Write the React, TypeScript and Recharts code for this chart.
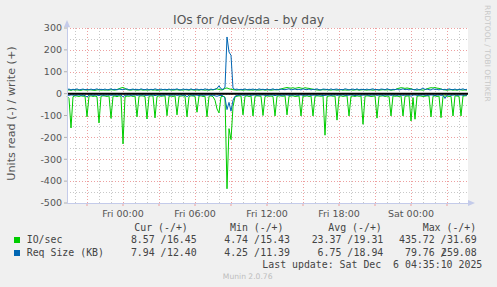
import { LineChart, Line, XAxis, YAxis, ReferenceLine } from 'recharts'

// one sample every 10 minutes, starting Thu 19:20
const STEP_MIN = 10

// IO/sec, read (drawn negative)
const readIO = [
  -12, -22, -157, -14, -10, -11, -13, -10, -12, -11,
  -106, -12, -10, -13, -11, -14, -134, -12, -10, -11,
  -13, -10, -113, -12, -11, -14, -10, -12, -230, -15,
  -11, -12, -10, -13, -11, -106, -12, -10, -11, -13,
  -116, -12, -10, -11, -111, -13, -10, -12, -11, -10,
  -101, -12, -11, -13, -10, -97, -12, -11, -10, -12,
  -106, -13, -10, -11, -12, -85, -11, -10, -13, -12,
  -106, -12, -10, -14, -30, -70, -88, -14, -12, -16,
  -435, -160, -210, -60, -14, -12, -10, -11, -97, -12,
  -10, -13, -11, -102, -12, -10, -11, -12, -100, -13,
  -10, -12, -11, -13, -102, -12, -10, -11, -12, -10,
  -97, -12, -11, -10, -13, -12, -10, -102, -11, -12,
  -10, -13, -11, -102, -12, -10, -11, -12, -10, -190,
  -13, -11, -10, -12, -11, -121, -12, -10, -13, -11,
  -10, -102, -12, -11, -13, -10, -12, -11, -140, -12,
  -10, -11, -13, -12, -10, -112, -12, -11, -10, -13,
  -11, -12, -102, -10, -12, -11, -13, -10, -102, -12,
  -11, -10, -125, -18, -117, -12, -10, -11, -13, -12,
  -10, -11, -106, -12, -10, -13, -11, -110, -12, -10,
  -11, -13, -12, -102, -10, -11, -12, -102, -11, -10,
  -9,
]

// IO/sec, write
const writeIO = [
  16, 17, 15, 18, 16, 17, 16, 15, 18, 17,
  16, 18, 17, 16, 15, 17, 18, 16, 17, 16,
  17, 16, 18, 17, 16, 19, 22, 26, 28, 24,
  18, 17, 16, 18, 17, 16, 17, 18, 16, 17,
  16, 17, 18, 16, 17, 15, 17, 16, 18, 17,
  16, 18, 17, 16, 17, 18, 16, 17, 16, 18,
  17, 16, 18, 17, 16, 17, 16, 18, 17, 16,
  17, 16, 18, 17, 20, 22, 19, 17, 18, 24,
  26, 22, 20, 18, 17, 16, 18, 17, 16, 17,
  18, 16, 17, 16, 18, 17, 16, 17, 18, 16,
  17, 18, 16, 17, 18, 17, 19, 21, 24, 26,
  28, 26, 25, 27, 24, 26, 28, 25, 24, 27,
  25, 24, 22, 20, 18, 17, 16, 17, 18, 17,
  18, 17, 16, 18, 17, 16, 17, 18, 16, 17,
  16, 17, 18, 16, 17, 18, 16, 17, 18, 17,
  16, 18, 17, 16, 17, 18, 16, 17, 18, 17,
  17, 18, 16, 17, 18, 22, 25, 27, 26, 24,
  26, 24, 22, 19, 17, 16, 18, 17, 16, 18,
  22, 25, 27, 26, 28, 25, 24, 21, 18, 17,
  16, 17, 18, 16, 17, 16, 18, 17, 16, 17,
  16,
]

// Req Size (KB), read (drawn negative)
const readReq = [
  -7, -8, -6, -7, -8, -7, -6, -8, -7, -9,
  -15, -7, -6, -8, -7, -7, -9, -6, -8, -7,
  -7, -6, -8, -7, -7, -8, -6, -7, -14, -8,
  -7, -6, -8, -7, -6, -8, -7, -7, -6, -8,
  -8, -7, -6, -7, -9, -7, -6, -8, -7, -7,
  -6, -8, -7, -7, -6, -8, -7, -6, -8, -7,
  -14, -7, -6, -8, -7, -7, -9, -6, -8, -7,
  -7, -6, -8, -7, -10, -12, -9, -8, -10, -20,
  -73, -40, -80, -30, -12, -8, -7, -6, -8, -7,
  -7, -6, -8, -7, -6, -8, -7, -7, -6, -8,
  -8, -7, -6, -7, -9, -7, -6, -8, -7, -7,
  -6, -8, -7, -7, -6, -8, -7, -6, -8, -7,
  -7, -6, -8, -7, -7, -8, -6, -7, -9, -8,
  -7, -6, -8, -7, -6, -8, -7, -7, -6, -8,
  -8, -7, -6, -7, -9, -7, -6, -8, -7, -7,
  -6, -8, -7, -7, -6, -8, -7, -6, -8, -7,
  -7, -6, -8, -7, -7, -8, -6, -7, -8, -7,
  -7, -6, -12, -7, -6, -8, -7, -7, -6, -8,
  -8, -7, -6, -7, -9, -7, -6, -8, -7, -22,
  -7, -6, -8, -7, -6, -8, -7, -6, -8, -7,
  -7,
]

// Req Size (KB), write
const writeReq = [
  18, 21, 17, 20, 18, 22, 17, 19, 21, 18,
  20, 17, 21, 18, 19, 22, 17, 20, 18, 21,
  17, 19, 22, 18, 20, 17, 21, 19, 18, 20,
  22, 17, 19, 21, 18, 20, 17, 22, 19, 18,
  21, 17, 20, 18, 22, 19, 17, 21, 18, 20,
  18, 21, 17, 20, 19, 22, 18, 17, 21, 19,
  20, 17, 22, 18, 19, 21, 17, 20, 18, 22,
  19, 17, 21, 18, 20, 24, 36, 22, 19, 30,
  259, 190, 175, 24, 19, 21, 17, 20, 18, 22,
  17, 20, 19, 21, 18, 17, 22, 19, 20, 18,
  21, 17, 19, 22, 18, 20, 17, 21, 19, 18,
  20, 22, 17, 19, 21, 18, 20, 17, 22, 19,
  18, 21, 17, 20, 19, 22, 18, 17, 21, 20,
  19, 17, 22, 18, 20, 21, 17, 19, 18, 22,
  20, 17, 19, 21, 18, 22, 17, 20, 19, 18,
  21, 17, 20, 22, 18, 19, 17, 21, 20, 18,
  22, 19, 17, 20, 18, 21, 17, 19, 22, 18,
  20, 17, 21, 19, 18, 22, 17, 20, 26, 19,
  21, 18, 17, 22, 19, 20, 17, 21, 18, 20,
  17, 22, 19, 18, 21, 17, 20, 19, 22, 18,
  20,
]

const xTickMinutes = [280, 640, 1000, 1360, 1720]
const xTickLabels = ['Fri 00:00', 'Fri 06:00', 'Fri 12:00', 'Fri 18:00', 'Sat 00:00']
const yTicks = [-500, -400, -300, -200, -100, 0, 100, 200, 300]

const statHeaders = ['Cur (-/+)', 'Min (-/+)', 'Avg (-/+)', 'Max (-/+)']
const ioRead = ['8.57', '4.74', '23.37', '435.72']
const ioWrite = ['16.45', '15.43', '19.31', '31.69']
const reqRead = ['7.94', '4.25', '6.75', '79.76']
const reqWrite = ['12.40', '11.39', '18.94', '259.08']

const GREEN = '#00cc00'
const BLUE = '#0066b3'
const MONO = '"DejaVu Sans Mono", monospace'
const SANS = '"DejaVu Sans", sans-serif'

const data = readIO.map((v, i) => ({
  t: i * STEP_MIN,
  readIO: v,
  writeIO: writeIO[i],
  readReq: readReq[i],
  writeReq: writeReq[i],
}))

// hourly minor grid, red grid every 3 hours
const minorX: number[] = []
const majorX: number[] = []
for (let m = 40; m < 2005; m += 60) {
  if ((m - 100) % 180 === 0) majorX.push(m)
  else minorX.push(m)
}
const minorY = [-450, -350, -250, -150, -50, 50, 150, 250]

const tickLabel = (v: number) => {
  const k = xTickMinutes.indexOf(v)
  return k >= 0 ? xTickLabels[k] : ''
}

// plot box (matches the chart margins below)
const PLOT = { left: 67, top: 28, width: 401, height: 175 }
const Y_DOMAIN = [-500, 300]
const yPx = (v: number) =>
  Math.round(PLOT.top + ((Y_DOMAIN[1] - v) / (Y_DOMAIN[1] - Y_DOMAIN[0])) * PLOT.height) + 0.5

// legend column geometry (rrdtool style: "%6.2lf /" then right-aligned write value)
const colStart = [119, 212.3, 305.7, 399]
const colEnd = [196.7, 290, 383.3, 476.7]
const headX = [134.3, 230, 328.3, 422.7]

const MINOR_COL = '#c8c8c8'
const MAJOR_COL = '#eda0a0'
const MINOR = { stroke: MINOR_COL, strokeDasharray: '1 2', shapeRendering: 'crispEdges' }
const MAJOR = { stroke: MAJOR_COL, strokeDasharray: '1 2', shapeRendering: 'crispEdges' }

function StatRow({ y, read, write }: { y: number; read: string[]; write: string[] }) {
  return (
    <>
      {read.map((r, k) => (
        <text key={'r' + k} x={colStart[k]} y={y} style={{ whiteSpace: 'pre' }}>
          {r.padStart(6) + ' /'}
        </text>
      ))}
      {write.map((w, k) => (
        <text key={'w' + k} x={colEnd[k]} y={y} textAnchor="end">
          {w}
        </text>
      ))}
    </>
  )
}

export default function App() {
  const axisCol = '#c4cbea'
  const x1 = PLOT.left
  const x2 = PLOT.left + PLOT.width
  return (
    <div style={{ position: 'absolute', left: 0, top: 0, width: 497, height: 287, background: '#f0f0f0' }}>
      <div style={{ position: 'absolute', left: PLOT.left, top: PLOT.top, width: PLOT.width, height: PLOT.height, background: '#fff' }} />
      {/* horizontal grid under the series */}
      <svg width={497} height={287} style={{ position: 'absolute', left: 0, top: 0 }}>
        {minorY.map(v => (
          <line key={'my' + v} x1={x1} x2={x2} y1={yPx(v)} y2={yPx(v)} stroke={MINOR_COL} strokeDasharray="1 2" />
        ))}
        {yTicks.map(v => (
          <line key={'My' + v} x1={x1} x2={x2} y1={yPx(v)} y2={yPx(v)} stroke={MAJOR_COL} strokeDasharray="1 2" />
        ))}
      </svg>
      <div style={{ position: 'absolute', left: 0, top: 0 }}>
        <LineChart width={497} height={287} data={data} margin={{ top: 28, right: 29, bottom: 64, left: 0 }}>
          <XAxis
            type="number"
            dataKey="t"
            domain={[0, 2005]}
            ticks={majorX}
            interval={0}
            tickFormatter={tickLabel}
            axisLine={false}
            tickLine={{ stroke: MAJOR_COL }}
            tickSize={3}
            tickMargin={4}
            height={20}
            tick={{ fontSize: 9.5, fill: '#555', fontFamily: SANS }}
          />
          <YAxis
            type="number"
            domain={Y_DOMAIN}
            ticks={yTicks}
            interval={0}
            width={67}
            axisLine={false}
            tickLine={{ stroke: '#b0b0b0' }}
            tickSize={3}
            tickMargin={2}
            tick={{ fontSize: 9.5, fill: '#555', fontFamily: SANS }}
          />
          {minorX.map(v => (
            <ReferenceLine key={'mx' + v} x={v} {...MINOR} />
          ))}
          {majorX.map(v => (
            <ReferenceLine key={'Mx' + v} x={v} {...MAJOR} />
          ))}
          <Line dataKey="readIO" type="linear" stroke={GREEN} strokeWidth={1} dot={false} activeDot={false} isAnimationActive={false} />
          <Line dataKey="writeIO" type="linear" stroke={GREEN} strokeWidth={1} dot={false} activeDot={false} isAnimationActive={false} />
          <Line dataKey="readReq" type="linear" stroke={BLUE} strokeWidth={1} dot={false} activeDot={false} isAnimationActive={false} />
          <Line dataKey="writeReq" type="linear" stroke={BLUE} strokeWidth={1} dot={false} activeDot={false} isAnimationActive={false} />
          <ReferenceLine y={0} stroke="#000" strokeWidth={2} />
        </LineChart>
      </div>

      <svg width={497} height={287} style={{ position: 'absolute', left: 0, top: 0, pointerEvents: 'none' }}>
        {/* axes with arrows */}
        <line x1={67} y1={203} x2={67} y2={24} stroke={axisCol} shapeRendering="crispEdges" />
        <polygon points="67,20 64,27 70,27" fill={axisCol} />
        <line x1={67} y1={203} x2={471} y2={203} stroke={axisCol} shapeRendering="crispEdges" />
        <polygon points="475,203 468,200 468,206" fill={axisCol} />

        <text x={248.5} y={23.5} textAnchor="middle" fontSize={12.3} fill="#555" fontFamily={SANS}>
          IOs for /dev/sda - by day
        </text>
        <text transform="translate(15,113.5) rotate(-90)" textAnchor="middle" fontSize={11.2} fill="#555" fontFamily={SANS}>
          Units read (-) / write (+)
        </text>
        <text transform="translate(484.5,5) rotate(90)" fontSize={7.5} fill="#c8c8c8" fontFamily={SANS}>
          RRDTOOL / TOBI OETIKER
        </text>

        <g fontFamily={MONO} fontSize={9.9} fill="#444">
          {statHeaders.map((h, k) => (
            <text key={h} x={headX[k]} y={230.5}>{h}</text>
          ))}
          <rect x={14} y={237} width={6} height={6} fill={GREEN} />
          <text x={26.7} y={243.3}>IO/sec</text>
          <StatRow y={243.3} read={ioRead} write={ioWrite} />
          <rect x={14} y={250} width={6} height={6} fill={BLUE} />
          <text x={26.7} y={255.8}>Req Size (KB)</text>
          <StatRow y={255.8} read={reqRead} write={reqWrite} />
          <text x={482.3} y={267.5} textAnchor="end" style={{ whiteSpace: 'pre' }}>
            Last update: Sat Dec  6 04:35:10 2025
          </text>
        </g>
        <text x={247.7} y={279} textAnchor="middle" fontSize={7.6} fill="#bdbdbd" fontFamily={SANS}>
          Munin 2.0.76
        </text>
      </svg>
    </div>
  )
}
